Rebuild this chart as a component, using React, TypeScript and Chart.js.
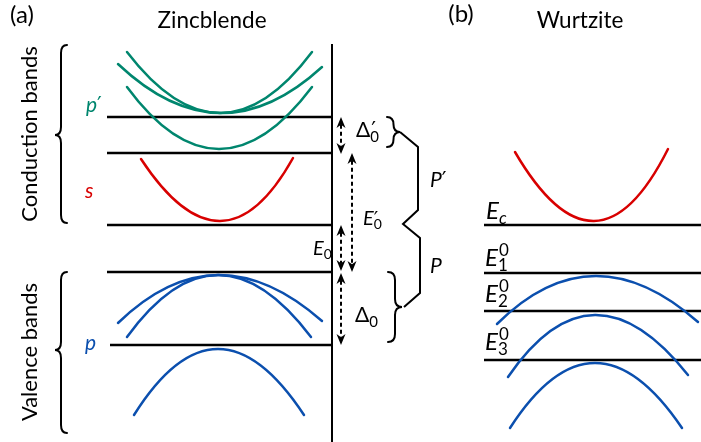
import React, { useEffect, useRef } from "react";
import { Chart, registerables } from "chart.js";

Chart.register(...registerables);

const FONT = "Lato, 'DejaVu Sans', sans-serif";
const GREEN = "#00866e";
const RED = "#d80000";
const BLUE = "#0b4fae";
const BLACK = "#000000";

type Pt = [number, number];

// Diagram coordinates: k (wave vector, arbitrary units) and E (energy, arbitrary units)
const K_MIN = 0;
const K_MAX = 701;
const E_MIN = 0;
const E_MAX = 442;

// Zincblende energy levels
const zbLevelE = [325, 289, 217, 170, 97];
const zbLevelKStart = [107, 107, 107, 107, 110];
const zbEdgeK = 332;
const zbEdgeE = [0, 398];

// Wurtzite energy levels (E_c, E1, E2, E3)
const wzLevelE = [217, 169, 131, 82];
const wzLevelK = [484, 701];

// Bands: [left end, extremum, right end] as [k, E]
const zbPrimeBands: Pt[][] = [
  [[127, 390], [220, 329], [312, 390]],
  [[118, 378], [220, 329], [322, 375]],
  [[127, 355], [219, 293], [312, 355]],
];
const zbSBands: Pt[][] = [[[141, 283], [220, 221], [293, 284]]];
const zbPBands: Pt[][] = [
  [[118, 119], [218, 167], [322, 121]],
  [[127, 105], [218, 167], [311, 105]],
  [[134, 27], [218, 93], [304, 27]],
];
const wzCBands: Pt[][] = [[[515, 290], [594, 221], [668, 293]]];
const wzVBands: Pt[][] = [
  [[497, 118], [595, 166], [698, 120]],
  [[508, 65], [595, 127], [688, 67]],
  [[510, 14], [595, 79], [682, 14]],
];

// Double arrows (Δ'0, E'0, E0, Δ0)
const arrowK = [341, 352, 341, 341];
const arrowFromE = [325, 289, 217, 169];
const arrowToE = [288, 170, 171, 97];

// Curly braces (conduction, valence, Δ'0, Δ0)
const braceEndK = [67, 67, 387, 388];
const braceTipK = [55, 55, 400, 402];
const braceTopE = [397, 170, 325, 170];
const braceBottomE = [219, 9, 295, 100];
const braceTipE = [307, 92, 310, 135];

// P' / P bracket polyline
const pBracketK = [400, 418, 418, 403, 420, 420, 404];
const pBracketE = [310, 295, 232, 218, 204, 149, 135];

type MathLabel = {
  k: number; e: number; size: number; color: string;
  main: string; it: boolean; prime?: boolean; sup?: string; sub?: string; subIt?: boolean;
};

const mathLabels: MathLabel[] = [
  { k: 86, e: 330, size: 21, color: GREEN, main: "p", it: true, prime: true },
  { k: 85, e: 244, size: 21, color: RED, main: "s", it: true },
  { k: 85, e: 92, size: 21, color: BLUE, main: "p", it: true },
  { k: 356, e: 305, size: 21, color: BLACK, main: "Δ", it: false, prime: true, sub: "0" },
  { k: 363, e: 217, size: 20, color: BLACK, main: "E", it: true, prime: true, sub: "0" },
  { k: 313, e: 187, size: 20, color: BLACK, main: "E", it: true, sub: "0" },
  { k: 355, e: 120, size: 21, color: BLACK, main: "Δ", it: false, sub: "0" },
  { k: 430, e: 255, size: 21, color: BLACK, main: "P", it: true, prime: true },
  { k: 430, e: 169, size: 21, color: BLACK, main: "P", it: true },
  { k: 486, e: 223, size: 24, color: BLACK, main: "E", it: true, sub: "c", subIt: true },
  { k: 485, e: 176, size: 24, color: BLACK, main: "E", it: true, sup: "0", sub: "1" },
  { k: 485, e: 140, size: 24, color: BLACK, main: "E", it: true, sup: "0", sub: "2" },
  { k: 485, e: 92, size: 24, color: BLACK, main: "E", it: true, sup: "0", sub: "3" },
];

const titleTexts = ["(a)", "Zincblende", "(b)", "Wurtzite"];
const titleK = [22, 212, 461, 580];
const titleE = [419, 414, 420, 414];

const sideTexts = ["Conduction bands", "Valence bands"];
const sideK = [37, 37];
const sideE = [308, 90];

function lineDs(points: Pt[], width = 2.5) {
  return {
    data: points.map(([x, y]) => ({ x, y })),
    borderColor: BLACK,
    borderWidth: width,
    pointRadius: 0,
    fill: false,
    tension: 0,
    borderCapStyle: "butt",
    borderJoinStyle: "miter",
  };
}

function bandDs(b: Pt[], color: string) {
  return {
    data: b.map(([x, y]) => ({ x, y })),
    showLine: false,
    pointRadius: 0,
    borderColor: color,
    borderWidth: 2.5,
    band: true,
  };
}

function drawArrow(ctx: CanvasRenderingContext2D, x: number, y1: number, y2: number) {
  const head = 11;
  const hw = 4.5;
  const d = y2 > y1 ? 1 : -1;
  ctx.save();
  ctx.strokeStyle = BLACK;
  ctx.fillStyle = BLACK;
  ctx.lineWidth = 2;
  ctx.setLineDash([4, 3]);
  ctx.beginPath();
  ctx.moveTo(x, y1 + d * head * 0.7);
  ctx.lineTo(x, y2 - d * head * 0.7);
  ctx.stroke();
  ctx.setLineDash([]);
  const headAt = (tip: number, dir: number) => {
    ctx.beginPath();
    ctx.moveTo(x, tip);
    ctx.lineTo(x - hw, tip + dir * head);
    ctx.lineTo(x, tip + dir * head * 0.7);
    ctx.lineTo(x + hw, tip + dir * head);
    ctx.closePath();
    ctx.fill();
  };
  headAt(y1, d);
  headAt(y2, -d);
  ctx.restore();
}

function drawBrace(ctx: CanvasRenderingContext2D, xe: number, xt: number, yTop: number, yBot: number, yTip: number) {
  const xm = (xe + xt) / 2;
  const r = Math.min(8, (yTip - yTop) / 2, (yBot - yTip) / 2);
  ctx.save();
  ctx.strokeStyle = BLACK;
  ctx.lineWidth = 2;
  ctx.lineCap = "round";
  ctx.beginPath();
  ctx.moveTo(xe, yTop);
  ctx.quadraticCurveTo(xm, yTop, xm, yTop + r);
  ctx.lineTo(xm, yTip - r);
  ctx.quadraticCurveTo(xm, yTip, xt, yTip);
  ctx.quadraticCurveTo(xm, yTip, xm, yTip + r);
  ctx.lineTo(xm, yBot - r);
  ctx.quadraticCurveTo(xm, yBot, xe, yBot);
  ctx.stroke();
  ctx.restore();
}

function drawMath(ctx: CanvasRenderingContext2D, l: MathLabel, x: number, y: number) {
  ctx.save();
  ctx.fillStyle = l.color;
  ctx.textAlign = "left";
  ctx.textBaseline = "alphabetic";
  ctx.font = `${l.it ? "italic " : ""}${l.size}px ${FONT}`;
  ctx.fillText(l.main, x, y);
  const w = ctx.measureText(l.main).width;
  const small = Math.round(l.size * 0.72);
  if (l.prime) {
    ctx.font = `${l.size}px 'DejaVu Sans', sans-serif`;
    ctx.fillText("′", x + w + (l.it ? 0 : 1), y);
  }
  if (l.sup) {
    ctx.font = `${small}px ${FONT}`;
    ctx.fillText(l.sup, x + w + 1, y - l.size * 0.42);
  }
  if (l.sub) {
    ctx.font = `${l.subIt ? "italic " : ""}${small}px ${FONT}`;
    ctx.fillText(l.sub, x + w, y + l.size * 0.22);
  }
  ctx.restore();
}

const diagramPlugin = {
  id: "diagram",
  afterDatasetsDraw(chart: any) {
    const ctx: CanvasRenderingContext2D = chart.ctx;
    const xs = chart.scales.x;
    const ys = chart.scales.y;
    const px = (k: number) => xs.getPixelForValue(k);
    const py = (e: number) => ys.getPixelForValue(e);

    // parabolic bands through their three points
    chart.data.datasets.forEach((ds: any, i: number) => {
      if (!ds.band) return;
      const pts = chart.getDatasetMeta(i).data;
      const a = pts[0], v = pts[1], b = pts[2];
      const cx = 2 * v.x - (a.x + b.x) / 2;
      const cy = 2 * v.y - (a.y + b.y) / 2;
      ctx.save();
      ctx.strokeStyle = ds.borderColor;
      ctx.lineWidth = ds.borderWidth;
      ctx.lineCap = "round";
      ctx.beginPath();
      ctx.moveTo(a.x, a.y);
      ctx.quadraticCurveTo(cx, cy, b.x, b.y);
      ctx.stroke();
      ctx.restore();
    });

    arrowK.forEach((k, i) => drawArrow(ctx, px(k), py(arrowFromE[i]), py(arrowToE[i])));

    braceEndK.forEach((k, i) =>
      drawBrace(ctx, px(k), px(braceTipK[i]), py(braceTopE[i]), py(braceBottomE[i]), py(braceTipE[i]))
    );

    mathLabels.forEach((l) => drawMath(ctx, l, px(l.k), py(l.e)));

    ctx.save();
    ctx.fillStyle = BLACK;
    ctx.textAlign = "center";
    ctx.textBaseline = "alphabetic";
    titleTexts.forEach((t, i) => {
      ctx.font = `${i % 2 === 0 ? 24 : 22.5}px ${FONT}`;
      ctx.fillText(t, px(titleK[i]), py(titleE[i]));
    });
    ctx.font = `22px ${FONT}`;
    sideTexts.forEach((t, i) => {
      ctx.save();
      ctx.translate(px(sideK[i]), py(sideE[i]));
      ctx.rotate(-Math.PI / 2);
      ctx.fillText(t, 0, 0);
      ctx.restore();
    });
    ctx.restore();
  },
};

export default function App() {
  const ref = useRef<HTMLCanvasElement | null>(null);
  useEffect(() => {
    document.body.style.margin = "0";
    const canvas = ref.current;
    if (!canvas) return;
    const datasets: any[] = [];
    zbLevelE.forEach((e, i) => datasets.push(lineDs([[zbLevelKStart[i], e], [zbEdgeK, e]])));
    datasets.push(lineDs([[zbEdgeK, zbEdgeE[0]], [zbEdgeK, zbEdgeE[1]]], 2));
    wzLevelE.forEach((e) => datasets.push(lineDs([[wzLevelK[0], e], [wzLevelK[1], e]])));
    datasets.push(lineDs(pBracketK.map((k, i) => [k, pBracketE[i]] as Pt), 2));
    zbPrimeBands.forEach((b) => datasets.push(bandDs(b, GREEN)));
    zbSBands.forEach((b) => datasets.push(bandDs(b, RED)));
    zbPBands.forEach((b) => datasets.push(bandDs(b, BLUE)));
    wzCBands.forEach((b) => datasets.push(bandDs(b, RED)));
    wzVBands.forEach((b) => datasets.push(bandDs(b, BLUE)));

    const chart = new Chart(canvas, {
      type: "line",
      data: { datasets },
      options: {
        animation: false,
        responsive: false,
        devicePixelRatio: 1,
        layout: { padding: 0 },
        plugins: { legend: { display: false }, tooltip: { enabled: false } },
        scales: {
          x: { type: "linear", min: K_MIN, max: K_MAX, display: false },
          y: { type: "linear", min: E_MIN, max: E_MAX, display: false },
        },
      },
      plugins: [diagramPlugin],
    } as any);
    return () => chart.destroy();
  }, []);
  return (
    <canvas ref={ref} width={701} height={442} style={{ display: "block", width: 701, height: 442 }} />
  );
}
